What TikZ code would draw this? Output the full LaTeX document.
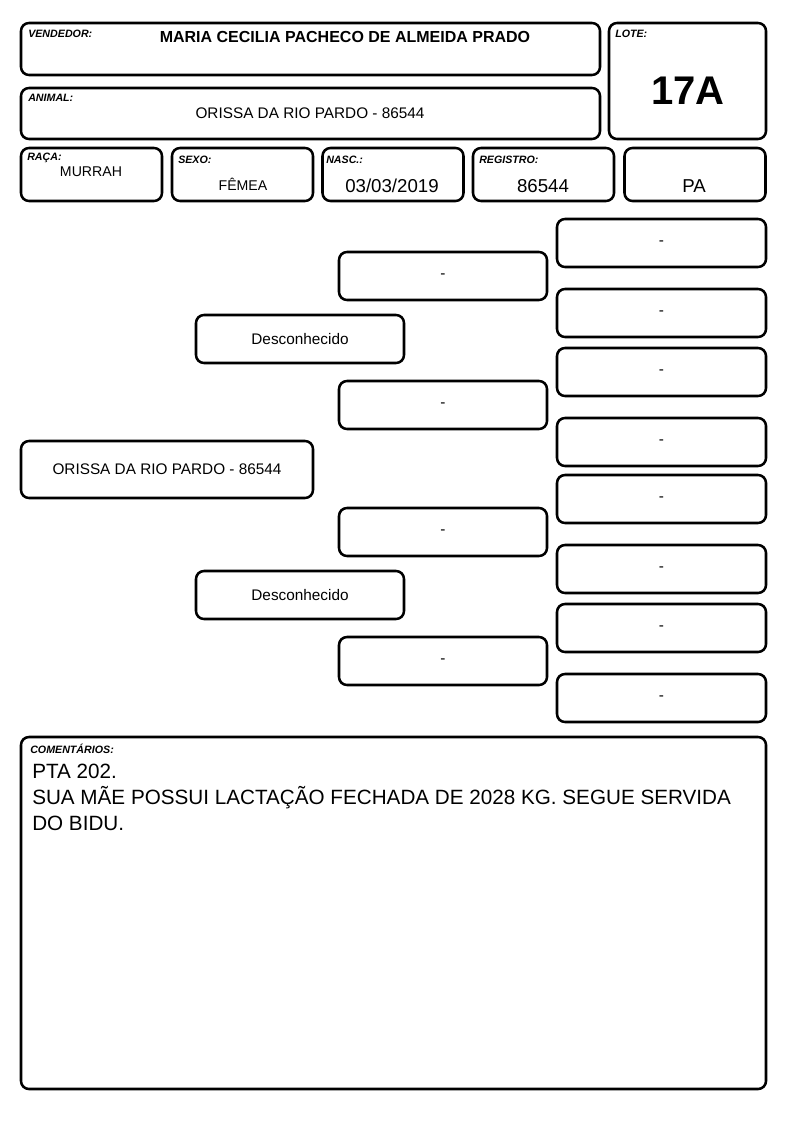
\documentclass[tikz,border=0pt]{standalone}
\usepackage{fontspec}
\setmainfont{Liberation Sans}
\begin{document}
\begin{tikzpicture}[x=0.75pt,y=-0.75pt,
  campo/.style={draw,line width=1.9pt,rounded corners=6pt,inner sep=0pt},
  rotulo/.style={anchor=north west,inner sep=0pt,font=\fontsize{8}{9}\selectfont\bfseries\itshape},
  valor/.style={inner sep=0pt,font=\fontsize{10.6}{12}\selectfont},
  grande/.style={inner sep=0pt,font=\fontsize{14}{16}\selectfont},
  ped/.style={campo,minimum width=156pt,minimum height=36pt,font=\fontsize{11.5}{13}\selectfont}]
  \useasboundingbox[fill=white] (0,0) rectangle (794,1123);
  % cabecalho
  \node[campo,minimum width=434.25pt,minimum height=39pt] (vend) at (310.5,49) {};
  \node[campo,minimum width=434.25pt,minimum height=38.25pt] (anim) at (310.5,113.5) {};
  \node[campo,minimum width=117.75pt,minimum height=87pt] (lote) at (687.5,81) {};
  \foreach \nome/\x in {raca/91.5,sexo/242.5,nasc/393,reg/543.5,pa/695}{
    \node[campo,minimum width=105.75pt,minimum height=39.75pt] (\nome) at (\x,174.5) {};
  }
  \node[rotulo] (lvend) at (28,30) {VENDEDOR:};
  \node[rotulo] (lanim) at (28,94) {ANIMAL:};
  \node[rotulo] (llote) at (615,30) {LOTE:};
  \node[rotulo] (lraca) at (27,153) {RAÇA:};
  \node[rotulo] (lsexo) at (178,156) {SEXO:};
  \node[rotulo] (lnasc) at (326,156) {NASC.:};
  \node[rotulo] (lreg) at (479,156) {REGISTRO:};
  \node[inner sep=0pt,font=\fontsize{12}{14}\selectfont\bfseries] (tvend) at (345,37) {MARIA CECILIA PACHECO DE ALMEIDA PRADO};
  \node[inner sep=0pt,font=\fontsize{11.5}{13}\selectfont] (tanim) at (310,113) {ORISSA DA RIO PARDO - 86544};
  \node[inner sep=0pt,font=\fontsize{30}{34}\selectfont\bfseries] (tlote) at (688,91) {17A};
  \node[valor] (traca) at (91,172) {MURRAH};
  \node[valor] (tsexo) at (243,184) {FÊMEA};
  \node[grande] (tnasc) at (392,186) {03/03/2019};
  \node[grande] (treg) at (543,186) {86544};
  \node[grande] (tpa) at (694,186) {PA};
  % genealogia
  \node[campo,minimum width=219pt,minimum height=42.75pt,font=\fontsize{11.5}{13}\selectfont] (animal) at (167,469.5) {ORISSA DA RIO PARDO - 86544};
  \node[ped] (pai) at (300,339) {Desconhecido};
  \node[ped] (mae) at (300,595) {Desconhecido};
  \foreach \y [count=\i] in {276,405,532,661}{
    \node[ped] (avo\i) at (443,\y) {-};
  }
  \foreach \y [count=\i] in {243,313,372,442,499,569,628,698}{
    \node[ped,minimum width=156.75pt] (bisavo\i) at (661.5,\y) {-};
  }
  % comentarios
  \node[campo,minimum width=558.75pt,minimum height=264pt] (coment) at (393.5,913) {};
  \node[rotulo] (lcoment) at (30,744) {COMENTÁRIOS:};
  \node[anchor=north west,inner sep=0pt,align=left,font=\fontsize{15.5}{19.5}\selectfont] (tcoment) at (32,764)
    {PTA 202.\\SUA MÃE POSSUI LACTAÇÃO FECHADA DE 2028 KG. SEGUE SERVIDA\\DO BIDU.};
\end{tikzpicture}
\end{document}
